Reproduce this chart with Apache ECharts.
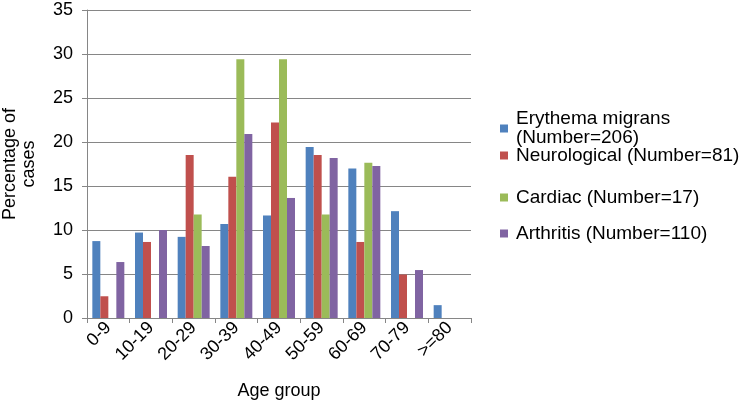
<!DOCTYPE html>
<html>
<head>
<meta charset="utf-8">
<script src="https://cdn.jsdelivr.net/npm/echarts@6/dist/echarts.min.js"></script>
<style>
html,body{margin:0;padding:0;background:#fff;}
#c{width:742px;height:402px;}
</style>
</head>
<body>
<div id="c"></div>
<script>
var categories = ['0-9','10-19','20-29','30-39','40-49','50-59','60-69','70-79','>=80'];
var erythema = [8.74, 9.71, 9.22, 10.68, 11.65, 19.42, 16.99, 12.14, 1.46];
var neuro = [2.47, 8.64, 18.52, 16.05, 22.22, 18.52, 8.64, 4.94, null];
var cardiac = [null, null, 11.76, 29.41, 29.41, 11.76, 17.65, null, null];
var arthritis = [6.36, 10.00, 8.18, 20.91, 13.64, 18.18, 17.27, 5.45, null];
var seriesNames = ['Erythema migrans\n(Number=206)', 'Neurological (Number=81)', 'Cardiac (Number=17)', 'Arthritis (Number=110)'];
var yTicks = [0, 5, 10, 15, 20, 25, 30, 35];

var colors = ['#4F81BD', '#C0504D', '#9BBB59', '#8064A2'];
var font = 'Liberation Sans, Arial, sans-serif';
var fs = 18;
var lfs = 19;

function mkLegend(i, top, extra) {
  var l = {
    data: [seriesNames[i]],
    left: 500,
    top: top,
    orient: 'vertical',
    itemWidth: 8,
    itemHeight: 8,
    itemGap: 0,
    padding: 0,
    icon: 'rect',
    selectedMode: false,
    textStyle: {fontFamily: font, fontSize: lfs, color: '#000', padding: [0,0,0,3]}
  };
  if (extra) { for (var k in extra) l.textStyle[k] = extra[k]; }
  return l;
}

var chart = echarts.init(document.getElementById('c'));
var allData = [erythema, neuro, cardiac, arthritis];
chart.setOption({
  animation: false,
  color: colors,
  grid: {left: 87, right: 271, top: 10, bottom: 84, containLabel: false, outerBoundsMode: 'none'},
  legend: [
    mkLegend(0, 100, {lineHeight: 19, padding: [19, 0, 0, 3]}),
    mkLegend(1, 146),
    mkLegend(2, 188),
    mkLegend(3, 224)
  ],
  xAxis: {
    type: 'category',
    data: categories,
    name: 'Age group',
    nameLocation: 'middle',
    nameGap: 64,
    nameMoveOverlap: false,
    nameTextStyle: {fontFamily: font, fontSize: fs, color: '#000'},
    axisLine: {lineStyle: {color: '#868686', width: 1}},
    axisTick: {show: true, length: 5, lineStyle: {color: '#868686'}},
    axisLabel: {rotate: 45, fontFamily: font, fontSize: fs, color: '#000', margin: 7, interval: 0}
  },
  yAxis: {
    type: 'value',
    min: 0,
    max: 35,
    interval: 5,
    name: 'Percentage of\ncases',
    nameLocation: 'middle',
    nameGap: 48,
    nameRotate: 90,
    nameMoveOverlap: false,
    nameTextStyle: {fontFamily: font, fontSize: fs, color: '#000', lineHeight: 19},
    axisLine: {show: true, lineStyle: {color: '#868686', width: 1}},
    axisTick: {show: true, length: 5, lineStyle: {color: '#868686'}},
    splitLine: {lineStyle: {color: '#868686', width: 1}},
    axisLabel: {fontFamily: font, fontSize: fs, color: '#000', margin: 14,
      formatter: function (v) { return yTicks.indexOf(v) >= 0 ? String(v) : ''; }}
  },
  series: allData.map(function (d, i) {
    return {
      name: seriesNames[i],
      type: 'bar',
      data: d,
      barWidth: 8,
      barGap: '0%',
      itemStyle: {color: colors[i]}
    };
  })
});
</script>
</body>
</html>
